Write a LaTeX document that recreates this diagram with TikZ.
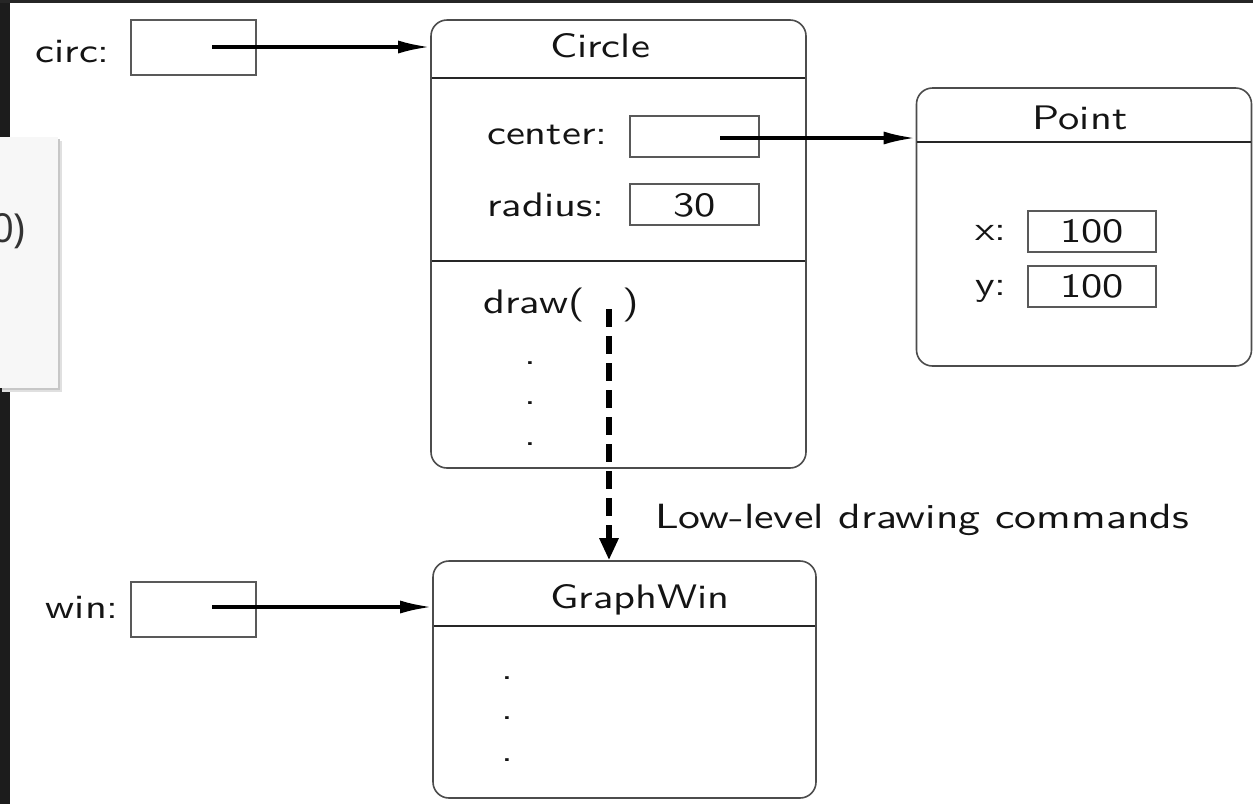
\documentclass[tikz,border=0pt]{standalone}
\usepackage{fontspec}
\setsansfont{lmsans10-regular.otf}[FakeStretch=1.25]
\newfontfamily\uifont{Open Sans}
\usetikzlibrary{arrows.meta}
\definecolor{stripleft}{HTML}{1C1C1C}
\definecolor{striptop}{HTML}{262626}
\definecolor{panelbg}{HTML}{F7F7F7}
\definecolor{paneltext}{HTML}{333333}
\begin{document}
\begin{tikzpicture}[x=1pt,y=-1pt,
  every node/.style={font=\sffamily\fontsize{34}{40}\selectfont, text=black!92, inner sep=0pt},
  obj/.style={draw=black!70, line width=1.6pt, rounded corners=16pt, rectangle},
  slot/.style={draw=black!65, line width=1.6pt, rectangle},
  ptr/.style={line width=3.5pt, -{Latex[length=32pt,width=13pt]}},
  dashptr/.style={line width=6pt, dash pattern=on 18pt off 9pt, -{Triangle[length=22pt,width=18pt]}},
  sep/.style={draw=black!85, line width=1.4pt},
  lbl/.style={anchor=base west},
  ttl/.style={anchor=base}]
\fill[white] (0,0) rectangle (1253,804);
\useasboundingbox (0,0) rectangle (1253,804);
\fill[stripleft] (0,0) rectangle (10,804);
\fill[striptop] (0,0) rectangle (1253,3);
% side panel
\fill[black!12] (2,141) rectangle (62,392);
\fill[black!22] (2,139) rectangle (60,390);
\fill[panelbg] (0,137) rectangle (58,388);
\node[anchor=east, font=\uifont\fontsize{40}{44}\selectfont, text=paneltext] (panelt) at (26,231) {0)};

% Circle object
\node[obj, minimum width=375pt, minimum height=448pt] (circle) at (618.5,244) {};
\node[ttl] (circlet) at (600,57) {Circle};
\draw[sep] (432,78) -- (805,78);
\draw[sep] (432,261) -- (805,261);
\node[lbl] (centerl) at (487,144) {center:};
\node[slot, minimum width=129pt, minimum height=41pt] (centerb) at (694.5,136.5) {};
\node[lbl] (radiusl) at (487,216) {radius:};
\node[slot, minimum width=129pt, minimum height=41pt] (radiusb) at (694.5,204.5) {};
\node[ttl] (radiusv) at (694.5,216) {30};
\node[lbl] (drawl) at (483,313) {draw(\hspace{38pt})};
\node[ttl] (cd1) at (530,364) {.};
\node[ttl] (cd2) at (530,404) {.};
\node[ttl] (cd3) at (530,445) {.};

% Point object
\node[obj, minimum width=335pt, minimum height=278pt] (point) at (1084,227) {};
\node[ttl] (pointt) at (1080,129) {Point};
\draw[sep] (917,142) -- (1251,142);
\node[lbl] (xl) at (975,240) {x:};
\node[slot, minimum width=128pt, minimum height=41pt] (xb) at (1092,231.5) {};
\node[ttl] (xv) at (1092,242) {100};
\node[lbl] (yl) at (975,295) {y:};
\node[slot, minimum width=128pt, minimum height=41pt] (yb) at (1092,286.5) {};
\node[ttl] (yv) at (1092,297) {100};

% GraphWin object
\node[obj, minimum width=383pt, minimum height=237pt] (gw) at (624.5,679.5) {};
\node[ttl] (gwt) at (640,608) {GraphWin};
\draw[sep] (434,626) -- (815,626);
\node[ttl] (gd1) at (507,679) {.};
\node[ttl] (gd2) at (507,719) {.};
\node[ttl] (gd3) at (507,761) {.};

% variables
\node[anchor=base east] (circl) at (110,62) {circ:};
\node[slot, minimum width=125pt, minimum height=55pt] (circb) at (193.5,47.5) {};
\node[anchor=base east] (winl) at (119,618) {win:};
\node[slot, minimum width=125pt, minimum height=55pt] (winb) at (193.5,609.5) {};

% pointers
\coordinate (cptr) at (212,47);
\draw[ptr] (cptr) -- (cptr -| circle.west);
\coordinate (wptr) at (212,607);
\draw[ptr] (wptr) -- (wptr -| gw.west);
\coordinate (pptr) at (720,138);
\draw[ptr] (pptr) -- (pptr -| point.west);

% drawing commands
\coordinate (dstart) at (609,309);
\draw[dashptr] (dstart) -- (dstart |- gw.north);
\node[lbl, font=\sffamily\fontsize{35}{40}\selectfont] (lowl) at (655,528) {Low-level drawing commands};
\end{tikzpicture}
\end{document}
